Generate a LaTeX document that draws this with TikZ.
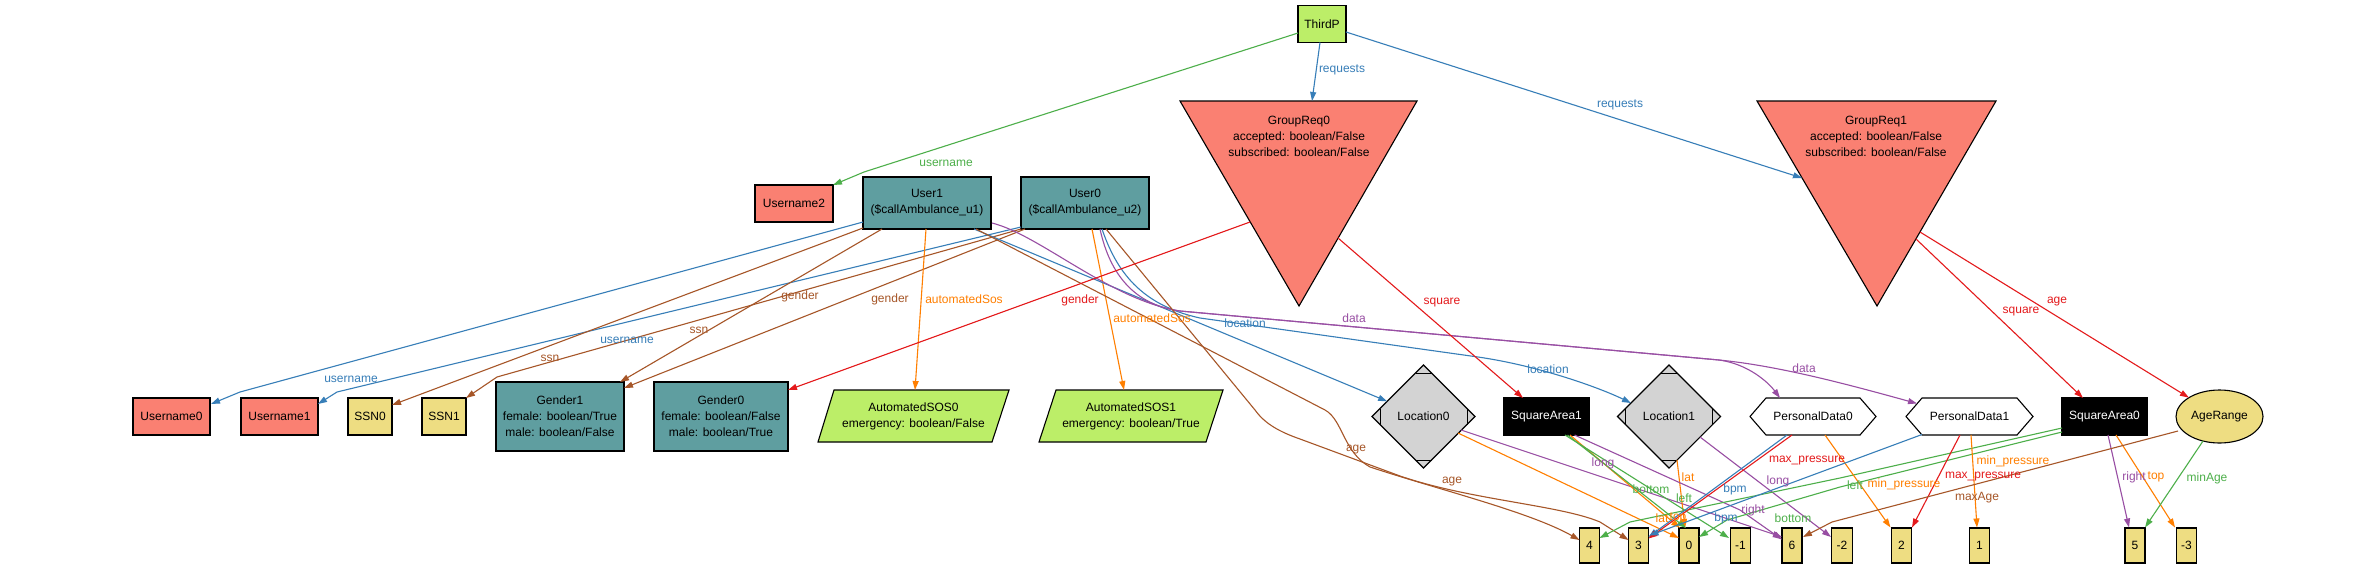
\documentclass[tikz,border=0pt]{standalone}
\usepackage{fontspec}
\setmainfont{Liberation Sans}
\usetikzlibrary{arrows.meta,calc,shapes.geometric}
\definecolor{cblue}{HTML}{377EB8}
\definecolor{cgreen}{HTML}{4DAF4A}
\definecolor{cred}{HTML}{E41A1C}
\definecolor{cpurple}{HTML}{984EA3}
\definecolor{corange}{HTML}{FF7F00}
\definecolor{cbrown}{HTML}{A65628}
\definecolor{salmonc}{HTML}{FA8072}
\definecolor{cadet}{HTML}{5F9EA0}
\definecolor{goldc}{HTML}{EEDD82}
\definecolor{oliveg}{HTML}{BCEE68}
\definecolor{lgray}{HTML}{D3D3D3}
\begin{document}
\begin{tikzpicture}[x=1pt,y=-1pt,
  every node/.style={font=\fontsize{12}{16}\selectfont, outer sep=0pt},
  nbox/.style={draw=black, line width=1.1pt, rectangle, inner sep=2pt, align=center},
  shp/.style={draw=black, line width=1.1pt, line join=miter},
  txt/.style={inner sep=0pt, align=center},
  conn/.style={line width=1.1pt, draw=#1, -{Triangle[length=9pt,width=6pt]}},
  lab/.style={text=#1, inner sep=0pt},
  numbox/.style={nbox, fill=goldc, minimum width=20pt, minimum height=35pt, inner xsep=5pt}]
\useasboundingbox (0,0) rectangle (2364,568);
\fill[white] (0,0) rectangle (2364,568);

% ---------- top ----------
\node[nbox, fill=oliveg, minimum width=48pt, minimum height=37pt] (ThirdP) at (1322,24) {ThirdP};
\filldraw[shp, fill=salmonc] (1180,101) -- (1417,101) -- (1299,306) -- cycle;
\node[txt] (GroupReq0) at (1299,136) {GroupReq0\\accepted: boolean/False\\subscribed: boolean/False};
\filldraw[shp, fill=salmonc] (1757,101) -- (1996,101) -- (1877,306) -- cycle;
\node[txt] (GroupReq1) at (1876,136) {GroupReq1\\accepted: boolean/False\\subscribed: boolean/False};

\node[nbox, fill=salmonc, minimum width=78pt, minimum height=37pt] (Username2) at (794,203.5) {Username2};
\node[nbox, fill=cadet, minimum width=128pt, minimum height=52pt] (User1) at (927,203) {User1\\(\$callAmbulance\_u1)};
\node[nbox, fill=cadet, minimum width=128pt, minimum height=52pt] (User0) at (1085,203) {User0\\(\$callAmbulance\_u2)};

% ---------- middle row ----------
\node[nbox, fill=salmonc, minimum width=77pt, minimum height=37pt] (Username0) at (171.5,416.5) {Username0};
\node[nbox, fill=salmonc, minimum width=77pt, minimum height=37pt] (Username1) at (279.5,416.5) {Username1};
\node[nbox, fill=goldc, minimum width=44pt, minimum height=37pt] (SSN0) at (370,416.5) {SSN0};
\node[nbox, fill=goldc, minimum width=44pt, minimum height=37pt] (SSN1) at (444,416.5) {SSN1};
\node[nbox, fill=cadet, minimum width=128pt, minimum height=69pt] (Gender1) at (560,416.5) {Gender1\\female: boolean/True\\male: boolean/False};
\node[nbox, fill=cadet, minimum width=134pt, minimum height=69pt] (Gender0) at (721,416.5) {Gender0\\female: boolean/False\\male: boolean/True};

\filldraw[shp, fill=oliveg] (818,442) -- (834,390) -- (1009,390) -- (992,442) -- cycle;
\node[txt, minimum width=175pt, minimum height=52pt] (SOS0) at (913.5,416) {AutomatedSOS0\\emergency: boolean/False};
\filldraw[shp, fill=oliveg] (1039,442) -- (1056,390) -- (1223,390) -- (1206,442) -- cycle;
\node[txt, minimum width=168pt, minimum height=52pt] (SOS1) at (1131,416) {AutomatedSOS1\\emergency: boolean/True};

\node[diamond, aspect=1, draw=black, line width=1.1pt, fill=lgray, minimum width=103pt, minimum height=103pt, inner sep=0pt] (Location0) at (1423.5,416.5) {Location0};
\node[diamond, aspect=1, draw=black, line width=1.1pt, fill=lgray, minimum width=103pt, minimum height=103pt, inner sep=0pt] (Location1) at (1669,416.5) {Location1};
\foreach \n in {Location0,Location1}{
  \draw[line width=1pt] ($(\n.north)+(-8,8)$) -- ($(\n.north)+(8,8)$);
  \draw[line width=1pt] ($(\n.south)+(-8,-8)$) -- ($(\n.south)+(8,-8)$);
  \draw[line width=1pt] ($(\n.west)+(8,-8)$) -- ($(\n.west)+(8,8)$);
  \draw[line width=1pt] ($(\n.east)+(-8,-8)$) -- ($(\n.east)+(-8,8)$);
}

\node[nbox, fill=black, text=white, minimum width=85pt, minimum height=37pt] (SquareArea1) at (1546.5,416.5) {SquareArea1};
\node[nbox, fill=black, text=white, minimum width=85pt, minimum height=37pt] (SquareArea0) at (2104.5,416.5) {SquareArea0};

\filldraw[shp, fill=white] (1750,416.5) -- (1766,398) -- (1860,398) -- (1876,416.5) -- (1860,435) -- (1766,435) -- cycle;
\node[txt, minimum width=126pt, minimum height=37pt] (PD0) at (1813,416.5) {PersonalData0};
\filldraw[shp, fill=white] (1906,416.5) -- (1922,398) -- (2017,398) -- (2033,416.5) -- (2017,435) -- (1922,435) -- cycle;
\node[txt, minimum width=127pt, minimum height=37pt] (PD1) at (1969.5,416.5) {PersonalData1};

\node[ellipse, draw=black, line width=1.1pt, fill=goldc, minimum width=87pt, minimum height=53pt, inner sep=0pt] (AgeRange) at (2219.5,416.5) {AgeRange};

% ---------- numbers ----------
\node[numbox] (n4) at (1589.5,545.5) {4};
\node[numbox] (n3) at (1638.5,545.5) {3};
\node[numbox] (n0) at (1689,545.5) {0};
\node[numbox] (nm1) at (1740.5,545.5) {-1};
\node[numbox] (n6) at (1792,545.5) {6};
\node[numbox] (nm2) at (1842,545.5) {-2};
\node[numbox] (n2) at (1901.5,545.5) {2};
\node[numbox] (n1) at (1979.5,545.5) {1};
\node[numbox] (n5) at (2135,545.5) {5};
\node[numbox] (nm3) at (2186.5,545.5) {-3};

% ---------- connectors ----------
\draw[conn=cgreen] ($(ThirdP)+(-24,9)$) -- (864,172) -- ($(Username2)+(39,-18.5)$);
\draw[conn=cblue] ($(ThirdP)+(-2,18.5)$) -- ($(GroupReq0)+(13,-35)$);
\draw[conn=cblue] ($(ThirdP)+(24,8)$) -- ($(GroupReq1)+(-74,42)$);

\draw[conn=cblue] ($(User1)+(-64,19)$) -- (240,392) -- ($(Username0)+(39.5,-12.5)$);
\draw[conn=cblue] ($(User0)+(-64,24)$) -- (337,392) -- ($(Username1)+(38.5,-12.5)$);
\draw[conn=cbrown] ($(User1)+(-64,25)$) -- ($(SSN0)+(22,-11.5)$);
\draw[conn=cbrown] ($(User0)+(-64,26)$) -- (497,377) -- ($(SSN1)+(22,-18.5)$);
\draw[conn=cbrown] ($(User1)+(-45,26)$) -- ($(Gender1)+(60,-34.5)$);
\draw[conn=cbrown] ($(User0)+(-60,26)$) -- ($(Gender1)+(64,-28.5)$);
\draw[conn=corange] ($(User1)+(-1,26)$) -- ($(SOS0)+(1.5,-26)$);
\draw[conn=corange] ($(User0)+(7,26)$) -- ($(SOS1)+(-7,-26)$);
\draw[conn=cblue] ($(User1)+(47,26)$) -- (Location0);
\draw[conn=cblue] ($(User0)+(17,26)$) .. controls (1116,270) and (1140,305) .. (1200,318) -- (1478,357) .. controls (1540,366) and (1600,388) .. ($(Location1)+(-38,-13.5)$);
\draw[conn=cpurple] ($(User1)+(65,20)$) .. controls (1040,235) and (1110,300) .. (1180,311) -- (1719,360) .. controls (1748,364) and (1768,382) .. ($(PD0)+(-33,-18.5)$);
\draw[conn=cpurple] ($(User0)+(15,26)$) .. controls (1110,275) and (1135,305) .. (1180,311) -- (1719,360) .. controls (1780,366) and (1850,385) .. ($(PD1)+(-52.5,-13)$);
\draw[conn=cbrown] ($(User1)+(49,26)$) -- (1325,410) .. controls (1343,420) and (1343,452) .. (1370,467) .. controls (1440,490) and (1530,512) .. ($(n4)+(-10,-5.5)$);
\draw[conn=cbrown] ($(User0)+(21,26)$) -- (1255,410) .. controls (1265,424) and (1280,432) .. (1300,439) -- (1400,476) .. controls (1470,500) and (1560,505) .. (1600,522) -- ($(n3)+(-10,-5.5)$);

\draw[conn=cred] ($(GroupReq0)+(-49,86)$) -- ($(Gender0)+(67,-26.5)$);
\draw[conn=cred] ($(GroupReq0)+(39,102)$) -- ($(SquareArea1)+(-23.5,-18.5)$);
\draw[conn=cred] ($(GroupReq1)+(40,103)$) -- ($(SquareArea0)+(-21.5,-18.5)$);
\draw[conn=cred] ($(GroupReq1)+(44,96)$) -- (AgeRange);

\draw[conn=corange] ($(Location0)+(34.5,16.5)$) -- ($(n0)+(-10,-7.5)$);
\draw[conn=cpurple] ($(Location0)+(37.5,13.5)$) -- ($(n6)+(-10,-8.5)$);
\draw[conn=corange] ($(Location1)+(8,43.5)$) -- ($(n0)+(-4,-17.5)$);
\draw[conn=cpurple] ($(Location1)+(31,20.5)$) -- ($(nm2)+(-11,-8.5)$);

\draw[conn=corange] ($(SquareArea1)+(23.5,18.5)$) -- ($(n0)+(-9,-17.5)$);
\draw[conn=cpurple] ($(SquareArea1)+(28,18.5)$) -- (1740,510) -- ($(n6)+(-10,-6)$);
\draw[conn=cgreen] ($(SquareArea1)+(18.5,18.5)$) -- ($(nm1)+(-11.5,-7.5)$);
\draw[conn=cgreen] ($(SquareArea1)+(21,18.5)$) -- ($(n0)+(-3,-17.5)$);

\draw[conn=cgreen] ($(SquareArea0)+(-42.5,11.5)$) -- (1840,478) -- (1630,522) -- ($(n4)+(10,-7.5)$);
\draw[conn=cgreen] ($(SquareArea0)+(-42.5,15.5)$) -- (1840,487) -- (1727,520) -- ($(n0)+(10,-8.5)$);
\draw[conn=cpurple] ($(SquareArea0)+(3.5,18.5)$) -- ($(n5)+(-6,-18)$);
\draw[conn=corange] ($(SquareArea0)+(11.5,18.5)$) -- ($(nm3)+(-11.5,-18)$);

\draw[conn=cblue] ($(PD0)+(-26,18.5)$) -- ($(n3)+(10,-8.5)$);
\draw[conn=cred] ($(PD0)+(-21,18.5)$) -- ($(n3)+(10,-7)$);
\draw[conn=corange] ($(PD0)+(12,18.5)$) -- ($(n2)+(-11,-18)$);
\draw[conn=cblue] ($(PD1)+(-47.5,18)$) -- ($(n3)+(11,-10)$);
\draw[conn=cred] ($(PD1)+(-9.5,18.5)$) -- ($(n2)+(10.5,-18)$);
\draw[conn=corange] ($(PD1)+(1.5,18.5)$) -- ($(n1)+(-2.5,-18)$);

\draw[conn=cbrown] ($(AgeRange)+(-41.5,14.5)$) -- (1832,522) -- ($(n6)+(11,-8.5)$);
\draw[conn=cgreen] ($(AgeRange)+(-16.5,24.5)$) -- ($(n5)+(10,-18)$);

% ---------- labels ----------
\node[lab=cgreen] at (946,163) {username};
\node[lab=cblue] at (1342,70) {requests};
\node[lab=cblue] at (1620,105) {requests};
\node[lab=cblue] at (351,379) {username};
\node[lab=cblue] at (627,340) {username};
\node[lab=cbrown] at (699,330) {ssn};
\node[lab=cbrown] at (550,358) {ssn};
\node[lab=cbrown] at (800,296) {gender};
\node[lab=cbrown] at (890,299) {gender};
\node[lab=corange] at (964,299) {automatedSos};
\node[lab=corange] at (1152,318) {automatedSos};
\node[lab=cblue] at (1245,323) {location};
\node[lab=cblue] at (1548,369) {location};
\node[lab=cpurple] at (1354,318) {data};
\node[lab=cpurple] at (1804,368) {data};
\node[lab=cbrown] at (1356,450) {age};
\node[lab=cbrown] at (1452,482) {age};
\node[lab=cred] at (1080,300) {gender};
\node[lab=cred] at (1442,303) {square};
\node[lab=cred] at (2021,312) {square};
\node[lab=cred] at (2057,302) {age};
\node[lab=corange] at (1662,518) {lat};
\node[lab=cpurple] at (1603,463) {long};
\node[lab=corange] at (1688,477) {lat};
\node[lab=cpurple] at (1778,481) {long};
\node[lab=corange] at (1678,518) {top};
\node[lab=cpurple] at (1753,510) {right};
\node[lab=cgreen] at (1651,489) {bottom};
\node[lab=cgreen] at (1684,498) {left};
\node[lab=cgreen] at (1855,485) {left};
\node[lab=cgreen] at (1793,518) {bottom};
\node[lab=cblue] at (1735,489) {bpm};
\node[lab=cred] at (1807,461) {max\_pressure};
\node[lab=cblue] at (1726,518) {bpm};
\node[lab=corange] at (1904,484) {min\_pressure};
\node[lab=cred] at (1983,477) {max\_pressure};
\node[lab=corange] at (2013,461) {min\_pressure};
\node[lab=cbrown] at (1977,498) {maxAge};
\node[lab=cgreen] at (2207,478) {minAge};
\node[lab=cpurple] at (2134,477) {right};
\node[lab=corange] at (2156,477) {top};
\end{tikzpicture}
\end{document}
